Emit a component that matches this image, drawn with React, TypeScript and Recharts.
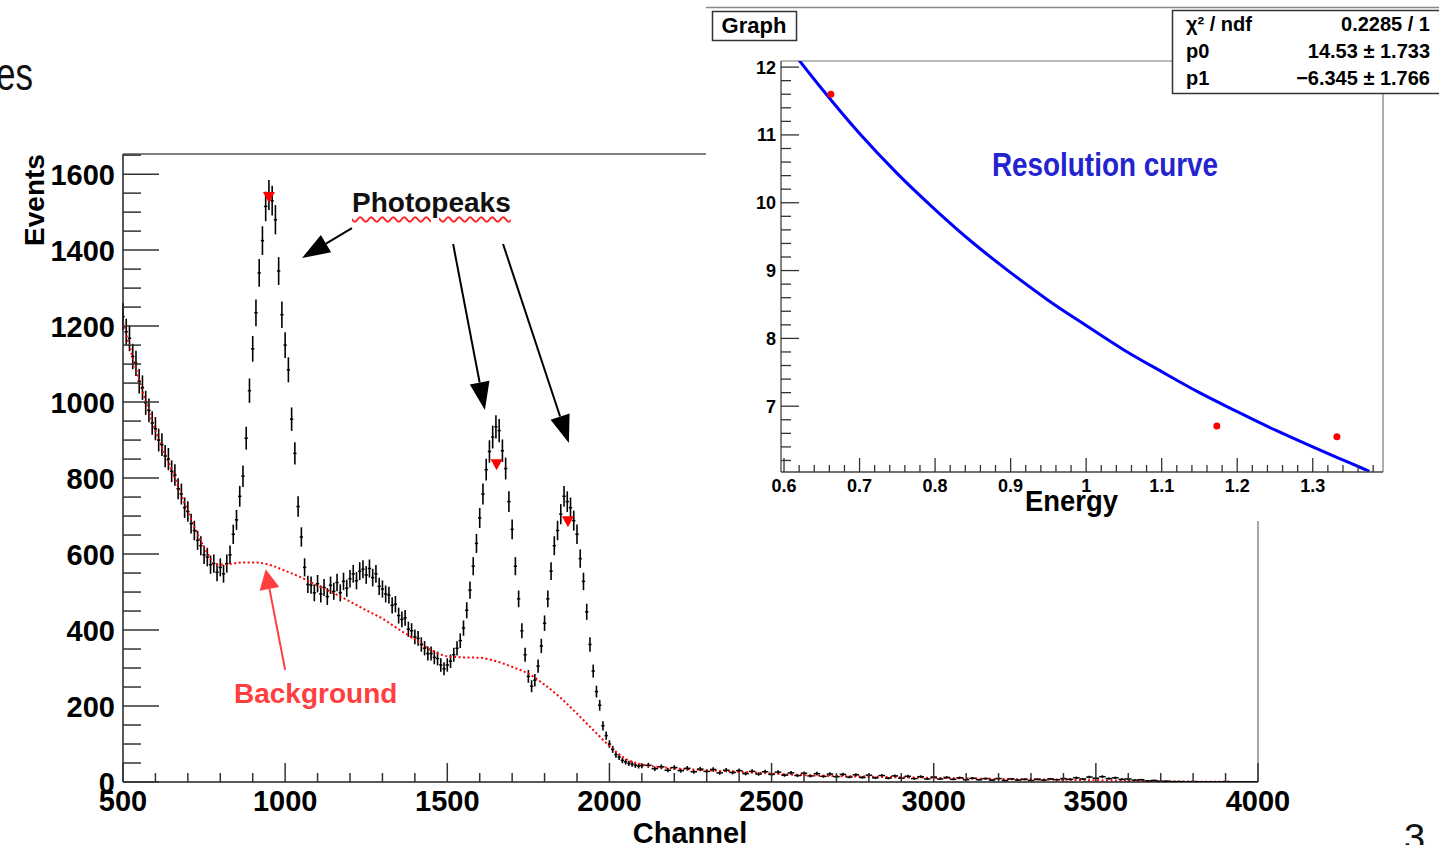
import React from 'react';
import {
  ComposedChart, Line, Scatter, XAxis, YAxis, ErrorBar, ReferenceLine,
} from 'recharts';

const FONT = "'Liberation Sans', Arial, Helvetica, sans-serif";

// spectrum: 10-channel bins from 500 to 2100
const fineStart = 500;
const fineStep = 10;
const countsFine = [
  1225, 1185, 1168, 1120, 1102, 1055, 1038, 998, 978, 945,
  930, 900, 888, 858, 850, 818, 808, 772, 758, 722,
  712, 680, 662, 636, 622, 598, 592, 572, 575, 552,
  565, 548, 575, 598, 652, 690, 752, 805, 905, 1030,
  1140, 1235, 1340, 1425, 1515, 1545, 1530, 1480, 1345, 1230,
  1150, 1085, 955, 865, 725, 645, 565, 520, 518, 498,
  522, 495, 512, 488, 518, 502, 525, 498, 528, 510,
  535, 548, 530, 555, 560, 545, 562, 538, 548, 515,
  508, 495, 492, 465, 468, 438, 428, 432, 402, 398,
  382, 378, 362, 352, 338, 338, 328, 325, 308, 298,
  308, 318, 335, 352, 372, 405, 452, 505, 568, 628,
  695, 758, 822, 870, 908, 935, 925, 872, 825, 738,
  665, 568, 482, 398, 335, 278, 252, 268, 305, 358,
  418, 482, 555, 622, 662, 705, 752, 738, 722, 688,
  652, 588, 528, 448, 362, 292, 238, 202, 148, 122,
  100, 86, 72, 66, 57, 53, 49, 47, 44, 42,
  43,
];
// tail: 20-channel bins from 2120 to 4000
const tailStart = 2120;
const tailStep = 20;
const countsTail = [
  44, 35, 40, 31, 38, 30, 36, 27, 34, 28, 33, 24, 31, 25, 30, 22, 28, 21, 27, 20,
  26, 18, 24, 17, 23, 16, 22, 15, 21, 14, 20, 13, 19, 12, 18, 11, 17, 10, 16, 10,
  15, 9, 14, 8, 13, 8, 12, 7, 11, 6, 10, 6, 9, 5, 9, 4, 8, 5, 7, 4,
  7, 5, 8, 6, 9, 7, 11, 8, 13, 10, 14, 9, 11, 7, 8, 5, 6, 3, 4, 2,
  2, 1, 1, 0, 1, 0, 0, 0, 0, 1, 0, 0, 0, 0, 0,
];

// fitted background (red dotted)
const bgChannels = [
  500, 550, 600, 650, 700, 750, 790, 830, 870, 910, 950, 1000, 1050, 1100, 1150,
  1200, 1250, 1300, 1350, 1400, 1450, 1500, 1550, 1600, 1650, 1700, 1750, 1800,
  1850, 1900, 1950, 2000, 2050, 2100, 2200, 2300, 2400, 2600, 2800, 3000, 3200,
  3400, 3600, 3800, 4000,
];
const bgValues = [
  1210, 1058, 925, 822, 712, 618, 572, 574, 578, 578, 572, 556, 538, 517, 497,
  475, 452, 430, 402, 376, 347, 331, 328, 327, 318, 303, 285, 256,
  221, 180, 137, 95, 61, 46, 36, 31, 27, 18, 14, 11, 8,
  6, 3, 1, 0,
];

// peak markers
const peakChannels = [950, 1652, 1872];
const peakValues = [1537, 834, 684];

const mainXMajor = [500, 1000, 1500, 2000, 2500, 3000, 3500, 4000];
const mainYMajor = [0, 200, 400, 600, 800, 1000, 1200, 1400, 1600];

// inset: resolution vs energy
const energyPts = [0.662, 1.173, 1.332];
const resolutionPts = [11.6, 6.71, 6.55];
const curveEnergy = [0.62, 0.65, 0.7, 0.75, 0.8, 0.85, 0.9, 0.95, 1.0, 1.05, 1.1, 1.15, 1.2, 1.25, 1.3, 1.35, 1.375];
const curveRes = [12.1, 11.68, 11.02, 10.43, 9.9, 9.41, 8.97, 8.56, 8.19, 7.83, 7.51, 7.2, 6.92, 6.65, 6.4, 6.16, 6.04];

const insetXMajor = [0.6, 0.7, 0.8, 0.9, 1, 1.1, 1.2, 1.3];
const insetYMajor = [7, 8, 9, 10, 11, 12];

const statsRows = [
  ['χ² / ndf', '0.2285 / 1'],
  ['p0', '14.53 ± 1.733'],
  ['p1', '−6.345 ± 1.766'],
];

// tables (error = sqrt of the bin content)
const spectrum = [
  ...countsFine.map((c, i) => ({ x: fineStart + i * fineStep, y: c, err: Math.sqrt(c) })),
  ...countsTail.map((c, i) => ({ x: tailStart + i * tailStep, y: c, err: Math.sqrt(c) })),
];
const background = bgChannels.map((x, i) => ({ x, y: bgValues[i] }));
const peaks = peakChannels.map((x, i) => ({ x, y: peakValues[i] }));
const points = energyPts.map((x, i) => ({ x, y: resolutionPts[i] }));
const curve = curveEnergy.map((x, i) => ({ x, y: curveRes[i] }));

const mainXTicks: number[] = [];
for (let v = 500; v <= 4000; v += 100) mainXTicks.push(v);
const mainYTicks: number[] = [];
for (let v = 0; v <= 1650; v += 50) mainYTicks.push(v);
const insetXTicks: number[] = [];
for (let i = 0; i <= 39; i++) insetXTicks.push(Math.round((0.6 + 0.02 * i) * 100) / 100);
const insetYTicks: number[] = [];
for (let i = 0; i <= 29; i++) insetYTicks.push(Math.round((6.2 + 0.2 * i) * 10) / 10);

const TICK = '#333';

const MainXTick = (p: any) => {
  const v = p.payload.value;
  const major = mainXMajor.includes(v);
  return (
    <g>
      <line x1={p.x} x2={p.x} y1={p.y} y2={p.y - (major ? 19 : 9)} stroke={TICK} strokeWidth={1.5} />
      {major && (
        <text x={p.x} y={p.y + 29} textAnchor="middle" fontSize={29} fontWeight="bold" fontFamily={FONT} fill="#000">{v}</text>
      )}
    </g>
  );
};

const MainYTick = (p: any) => {
  const v = p.payload.value;
  const major = mainYMajor.includes(v);
  return (
    <g>
      <line x1={p.x} x2={p.x + (major ? 36 : 18)} y1={p.y} y2={p.y} stroke={TICK} strokeWidth={1.5} />
      {major && (
        <text x={p.x - 8} y={p.y + 10.5} textAnchor="end" fontSize={29} fontWeight="bold" fontFamily={FONT} fill="#000">{v}</text>
      )}
    </g>
  );
};

const InsetXTick = (p: any) => {
  const v = p.payload.value;
  const major = insetXMajor.some((m) => Math.abs(m - v) < 1e-6);
  return (
    <g>
      <line x1={p.x} x2={p.x} y1={p.y} y2={p.y - (major ? 14 : 7)} stroke={TICK} strokeWidth={1.3} />
      {major && (
        <text x={p.x} y={p.y + 20} textAnchor="middle" fontSize={18} fontWeight="bold" fontFamily={FONT} fill="#000">{v === 1 ? '1' : v.toFixed(1)}</text>
      )}
    </g>
  );
};

const InsetYTick = (p: any) => {
  const v = p.payload.value;
  const major = insetYMajor.some((m) => Math.abs(m - v) < 1e-6);
  return (
    <g>
      <line x1={p.x} x2={p.x + (major ? 18 : 10)} y1={p.y} y2={p.y} stroke={TICK} strokeWidth={1.3} />
      {major && (
        <text x={p.x - 5} y={p.y + 6.5} textAnchor="end" fontSize={18} fontWeight="bold" fontFamily={FONT} fill="#000">{v}</text>
      )}
    </g>
  );
};

// ROOT-style bin marker: short horizontal dash at the bin content
const BinMark = (p: any) => {
  const w = p.payload && p.payload.x > 2100 ? 6.5 : 3.3;
  return <line x1={p.cx - w / 2} x2={p.cx + w / 2} y1={p.cy} y2={p.cy} stroke="#000" strokeWidth={1.5} />;
};

const PeakMark = (p: any) => (
  <polygon points={`${p.cx - 6},${p.cy - 6} ${p.cx + 6},${p.cy - 6} ${p.cx},${p.cy + 5}`} fill="#ff0000" />
);

const RedDot = (p: any) => <circle cx={p.cx} cy={p.cy} r={3.5} fill="#ff0000" />;

const arrow = (color: string, head: number, half: number) => (p: any) => {
  const { x1, y1, x2, y2 } = p;
  const len = Math.hypot(x2 - x1, y2 - y1) || 1;
  const ux = (x2 - x1) / len;
  const uy = (y2 - y1) / len;
  const bx = x2 - ux * head;
  const by = y2 - uy * head;
  return (
    <g>
      <line x1={x1} y1={y1} x2={bx} y2={by} stroke={color} strokeWidth={2} />
      <polygon points={`${x2},${y2} ${bx - uy * half},${by + ux * half} ${bx + uy * half},${by - ux * half}`} fill={color} />
    </g>
  );
};

export default function App() {
  return (
    <div style={{ position: 'absolute', left: 0, top: 0, width: 1439, height: 845, overflow: 'hidden', background: '#fff' }}>
      <div style={{ position: 'absolute', left: 0, top: 0 }}>
        <ComposedChart width={1439} height={845} margin={{ top: 154, right: 181, bottom: 23, left: 63 }}>
          <XAxis
            dataKey="x" type="number" domain={[500, 4000]} allowDataOverflow ticks={mainXTicks} interval={0}
            tickSize={0} tickMargin={0} tickLine={false} tick={MainXTick} height={40}
            axisLine={{ stroke: '#222', strokeWidth: 1.5 }}
          />
          <YAxis
            type="number" domain={[0, 1653]} allowDataOverflow ticks={mainYTicks} interval={0}
            tickSize={0} tickMargin={0} tickLine={false} tick={MainYTick} width={60}
            axisLine={{ stroke: '#222', strokeWidth: 1.5 }}
          />
          <ReferenceLine y={1653} stroke="#555" strokeWidth={1.3} />
          <ReferenceLine x={4000} stroke="#777" strokeWidth={1.3} />
          <Scatter data={spectrum} dataKey="y" shape={BinMark} isAnimationActive={false}>
            <ErrorBar dataKey="err" direction="y" width={0} stroke="#000" strokeWidth={1.6} />
          </Scatter>
          <Line
            data={background} dataKey="y" type="monotone" stroke="#ff0000" strokeWidth={2}
            strokeDasharray="2 2.5" dot={false} isAnimationActive={false}
          />
          <Scatter data={peaks} dataKey="y" shape={PeakMark} isAnimationActive={false} />
          <ReferenceLine segment={[{ x: 1206, y: 1458 }, { x: 1052, y: 1379 }]} shape={arrow('#000', 28, 10)} />
          <ReferenceLine segment={[{ x: 1518, y: 1416 }, { x: 1616, y: 979 }]} shape={arrow('#000', 28, 10)} />
          <ReferenceLine segment={[{ x: 1672, y: 1416 }, { x: 1875, y: 892 }]} shape={arrow('#000', 28, 10)} />
          <ReferenceLine segment={[{ x: 1000, y: 295 }, { x: 940, y: 560 }]} shape={arrow('#ff3f3f', 20, 10)} />
        </ComposedChart>
      </div>

      <div style={{ position: 'absolute', left: 706, top: 8, width: 733, height: 513, background: '#fff' }}>
        <ComposedChart width={733} height={513} margin={{ top: 53, right: 56, bottom: 19, left: 35 }}>
          <XAxis
            dataKey="x" type="number" domain={[0.596, 1.393]} allowDataOverflow ticks={insetXTicks} interval={0}
            tickSize={0} tickMargin={0} tickLine={false} tick={InsetXTick} height={30}
            axisLine={{ stroke: '#444', strokeWidth: 1.3 }}
          />
          <YAxis
            type="number" domain={[6.03, 12.09]} allowDataOverflow ticks={insetYTicks} interval={0}
            tickSize={0} tickMargin={0} tickLine={false} tick={InsetYTick} width={40}
            axisLine={{ stroke: '#444', strokeWidth: 1.3 }}
          />
          <ReferenceLine y={12.09} stroke="#777" strokeWidth={1.2} />
          <ReferenceLine x={1.393} stroke="#777" strokeWidth={1.2} />
          <Line data={curve} dataKey="y" type="monotone" stroke="#0000ff" strokeWidth={3} dot={false} isAnimationActive={false} />
          <Scatter data={points} dataKey="y" shape={RedDot} isAnimationActive={false} />
        </ComposedChart>
      </div>

      <svg width={1439} height={845} style={{ position: 'absolute', left: 0, top: 0, pointerEvents: 'none' }}>
        <text x={-4} y={90} fontSize={46} fontFamily={FONT} textLength={37} lengthAdjust="spacingAndGlyphs" fill="#111">es</text>
        <text x={1404} y={851} fontSize={38} fontFamily={FONT} fill="#111">3</text>
        <text transform="translate(44,200) rotate(-90)" textAnchor="middle" fontSize={28} fontWeight="bold" fontFamily={FONT} fill="#000">Events</text>
        <text x={690} y={843} textAnchor="middle" fontSize={29} fontWeight="bold" fontFamily={FONT} fill="#000">Channel</text>
        <text x={234} y={703} fontSize={28} fontWeight="bold" fontFamily={FONT} fill="#ff3f3f">Background</text>

        <line x1={706} x2={1439} y1={7.5} y2={7.5} stroke="#888" strokeWidth={1.5} />
        <rect x={712.5} y={11.5} width={84} height={29} fill="#fff" stroke="#333" strokeWidth={1.5} />
        <text x={754} y={33} textAnchor="middle" fontSize={22} fontWeight="bold" fontFamily={FONT} fill="#000">Graph</text>

        <rect x={1172.5} y={10.5} width={280} height={83} fill="#fff" stroke="#333" strokeWidth={1.5} />
        {statsRows.map((r, i) => (
          <g key={r[0]}>
            <text x={1186} y={31 + 27 * i} fontSize={20} fontWeight="bold" fontFamily={FONT} fill="#000">{r[0]}</text>
            <text x={1430} y={31 + 27 * i} textAnchor="end" fontSize={20} fontWeight="bold" fontFamily={FONT} fill="#000">{r[1]}</text>
          </g>
        ))}

        <text x={992} y={176} fontSize={34} fontWeight="bold" fontFamily={FONT} textLength={226} lengthAdjust="spacingAndGlyphs" fill="#2323d0">Resolution curve</text>
        <text x={1025} y={511} fontSize={30} fontWeight="bold" fontFamily={FONT} textLength={93} lengthAdjust="spacingAndGlyphs" fill="#000">Energy</text>
      </svg>

      <div
        style={{
          position: 'absolute', left: 352, top: 189, fontSize: 28, lineHeight: '28px', fontWeight: 'bold',
          fontFamily: FONT, color: '#111', textDecoration: 'underline wavy #ff2222',
          textDecorationThickness: '1.5px', textUnderlineOffset: '4px', whiteSpace: 'nowrap',
        }}
      >
        Photopeaks
      </div>
    </div>
  );
}
